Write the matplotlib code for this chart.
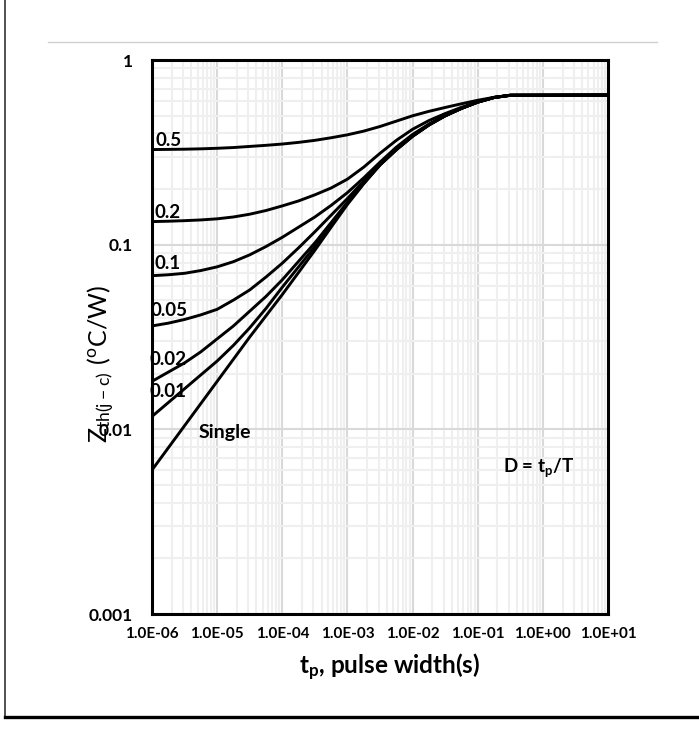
import matplotlib.pyplot as plt
from matplotlib.lines import Line2D
from matplotlib.ticker import LogLocator, NullFormatter, FixedLocator, FixedFormatter
import numpy as np

plt.rcParams['font.family'] = ['Lato', 'DejaVu Sans']

# pulse width, log10(tp / s)
log_tp = [-6, -5.75, -5.5, -5.25, -5, -4.75, -4.5, -4.25, -4, -3.75, -3.5, -3.25,
          -3, -2.75, -2.5, -2.25, -2, -1.75, -1.5, -1.25, -1, -0.75, -0.5, 1]

# transient thermal impedance, log10(Zth(j-c) / (C/W)), one list per duty cycle
log_z_d05 = [-0.485, -0.484, -0.483, -0.481, -0.478, -0.474, -0.468, -0.462,
             -0.455, -0.446, -0.435, -0.421, -0.405, -0.385, -0.360, -0.331,
             -0.302, -0.278, -0.257, -0.237, -0.218, -0.202, -0.191, -0.190]
log_z_d02 = [-0.875, -0.873, -0.870, -0.866, -0.860, -0.850, -0.835, -0.815,
             -0.790, -0.763, -0.730, -0.693, -0.645, -0.580, -0.505, -0.435,
             -0.375, -0.328, -0.290, -0.256, -0.227, -0.203, -0.191, -0.190]
log_z_d01 = [-1.168, -1.163, -1.155, -1.140, -1.120, -1.092, -1.055, -1.010,
             -0.960, -0.905, -0.850, -0.787, -0.718, -0.638, -0.553, -0.472,
             -0.403, -0.347, -0.301, -0.261, -0.228, -0.203, -0.191, -0.190]
log_z_d005 = [-1.440, -1.425, -1.405, -1.380, -1.350, -1.300, -1.245, -1.175,
              -1.100, -1.017, -0.930, -0.840, -0.750, -0.655, -0.562, -0.480,
              -0.410, -0.350, -0.302, -0.262, -0.228, -0.203, -0.191, -0.190]
log_z_d002 = [-1.740, -1.690, -1.640, -1.580, -1.510, -1.440, -1.360, -1.280,
              -1.190, -1.090, -0.990, -0.880, -0.770, -0.665, -0.567, -0.485,
              -0.412, -0.352, -0.302, -0.262, -0.228, -0.203, -0.191, -0.190]
log_z_d001 = [-1.930, -1.855, -1.780, -1.705, -1.630, -1.545, -1.450, -1.345,
              -1.230, -1.120, -1.010, -0.892, -0.775, -0.668, -0.568, -0.486,
              -0.413, -0.352, -0.302, -0.262, -0.228, -0.203, -0.191, -0.190]
log_z_single = [-2.220, -2.100, -1.980, -1.860, -1.740, -1.620, -1.500, -1.385,
                -1.270, -1.150, -1.030, -0.905, -0.782, -0.670, -0.568, -0.486,
                -0.413, -0.352, -0.302, -0.262, -0.228, -0.203, -0.191, -0.190]

curves = [log_z_d05, log_z_d02, log_z_d01, log_z_d005, log_z_d002, log_z_d001, log_z_single]
curve_labels = ['0.5', '0.2', '0.1', '0.05', '0.02', '0.01', 'Single']

x_ticks = [1e-6, 1e-5, 1e-4, 1e-3, 1e-2, 1e-1, 1e0, 1e1]
y_ticks = [0.001, 0.01, 0.1, 1]
y_ticklabels = ['0.001', '0.01', '0.1', '1']

fig = plt.figure(figsize=(6.99, 7.30), dpi=100)
ax = fig.add_axes([0.2175, 0.1589, 0.6524, 0.7589])

tp = 10.0 ** np.array(log_tp)
for lz in curves:
    ax.plot(tp, 10.0 ** np.array(lz), color='black', linewidth=2.1,
            solid_capstyle='round', solid_joinstyle='round', zorder=2)

ax.set_xscale('log')
ax.set_yscale('log')
ax.set_xlim(1e-6, 1e1)
ax.set_ylim(0.001, 1)

ax.xaxis.set_major_locator(FixedLocator(x_ticks))
ax.xaxis.set_major_formatter(FixedFormatter([f'{v:.1E}' for v in x_ticks]))
ax.yaxis.set_major_locator(FixedLocator(y_ticks))
ax.yaxis.set_major_formatter(FixedFormatter(y_ticklabels))
ax.xaxis.set_minor_locator(LogLocator(base=10, subs=np.arange(2, 10), numticks=30))
ax.yaxis.set_minor_locator(LogLocator(base=10, subs=np.arange(2, 10), numticks=30))
ax.xaxis.set_minor_formatter(NullFormatter())
ax.yaxis.set_minor_formatter(NullFormatter())

ax.grid(which='minor', color='#efefef', linewidth=1.5, zorder=0)
ax.grid(which='major', color='#d9d9d9', linewidth=1.5, zorder=0)
ax.set_axisbelow(True)

ax.tick_params(which='both', length=0)
ax.tick_params(axis='x', pad=9, labelsize=11)
ax.tick_params(axis='y', pad=13.5, labelsize=12.5)
for lab in ax.get_xticklabels() + ax.get_yticklabels():
    lab.set_fontweight('bold')

for sp in ax.spines.values():
    sp.set_linewidth(2.2)
    sp.set_color('black')

# duty cycle labels next to each curve
label_pos = [(1.12e-6, 0.366), (1.08e-6, 0.150), (1.08e-6, 0.0794),
             (0.95e-6, 0.0442), (0.92e-6, 0.0240), (0.92e-6, 0.0161),
             (5.2e-6, 0.00964)]
for txt, (x, y) in zip(curve_labels, label_pos):
    ax.text(x, y, txt, fontsize=14 if txt == 'Single' else 13.5, fontweight='bold',
            ha='left', va='center', zorder=1.5, clip_on=False)

ax.text(0.24, 0.0062, r'D = $\mathregular{t_p}$/T', fontsize=13.5, fontweight='bold',
        ha='left', va='center')

ax.set_xlabel(r'$\mathregular{t_p}$, pulse width(s)', fontsize=17.5, fontweight='bold')
ax.xaxis.set_label_coords(0.522, -0.068)
ax.set_ylabel(r'$\mathregular{Z_{th(j-c)}\ (^oC/W)}$', fontsize=18)
ax.yaxis.set_label_coords(-0.076, 0.451)

# outer frame and separator
fig.add_artist(Line2D([48 / 699, 657 / 699], [1 - 42 / 730, 1 - 42 / 730],
                      color='#d0d0d0', linewidth=1))
fig.add_artist(Line2D([5 / 699, 5 / 699], [1 - 717 / 730, 1.0],
                      color='#333333', linewidth=1.2))
fig.add_artist(Line2D([5 / 699, 1.0], [1 - 717 / 730, 1 - 717 / 730],
                      color='black', linewidth=2.4))

plt.savefig('out.png', dpi=100)
